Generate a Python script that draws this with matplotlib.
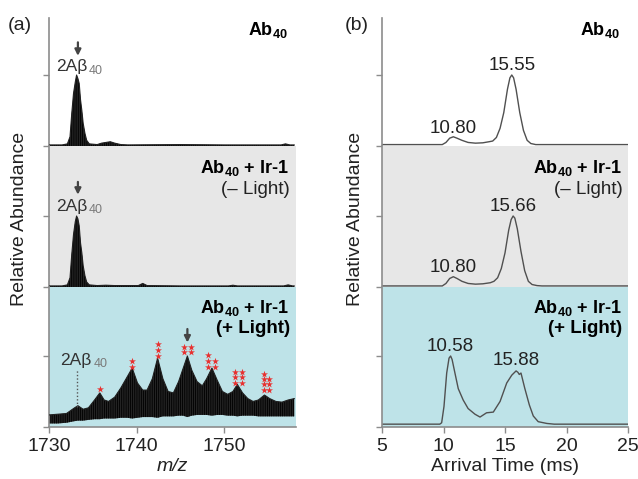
import matplotlib
matplotlib.use('Agg')
import matplotlib.pyplot as plt

plt.rcParams['font.family'] = ['Liberation Sans', 'DejaVu Sans']
plt.rcParams['mathtext.fontset'] = 'custom'
plt.rcParams['mathtext.rm'] = 'Liberation Sans'
plt.rcParams['mathtext.bf'] = 'Liberation Sans:bold'
plt.rcParams['mathtext.it'] = 'Liberation Sans:italic'
plt.rcParams['hatch.linewidth'] = 0.9

# ---------------- data: panel (a) mass spectra ----------------
# top: Ab40
mz_top = [1730, 1731.5, 1732.1, 1732.4, 1732.6, 1732.8, 1733.0, 1733.15, 1733.3, 1733.45,
          1733.6, 1733.75, 1733.9, 1734.1, 1734.3, 1734.6, 1735.5, 1736.0, 1736.5, 1737.0,
          1737.5, 1738.2, 1739.0, 1745.0, 1750.0, 1756.5, 1757.0, 1757.5, 1758.0]
ab_top = [0.015, 0.015, 0.03, 0.13, 0.46, 0.74, 0.90, 1.0, 0.95, 0.88,
          0.65, 0.50, 0.32, 0.18, 0.08, 0.03, 0.02, 0.04, 0.05, 0.06,
          0.04, 0.02, 0.015, 0.02, 0.015, 0.015, 0.03, 0.015, 0.015]
# middle: Ab40 + Ir-1 (- Light)
mz_mid = [1730, 1731.5, 1732.1, 1732.4, 1732.6, 1732.8, 1733.0, 1733.15, 1733.3, 1733.45,
          1733.6, 1733.75, 1733.9, 1734.1, 1734.3, 1734.6, 1735.5, 1736.5, 1737.5, 1740.2,
          1740.7, 1741.2, 1745.0, 1750.5, 1751.0, 1751.5, 1756.8, 1757.3, 1757.8, 1758.0]
ab_mid = [0.015, 0.015, 0.03, 0.13, 0.46, 0.74, 0.92, 1.0, 0.96, 0.86,
          0.62, 0.48, 0.30, 0.16, 0.07, 0.03, 0.02, 0.025, 0.02, 0.02,
          0.05, 0.02, 0.015, 0.015, 0.025, 0.015, 0.015, 0.03, 0.015, 0.015]
# bottom: Ab40 + Ir-1 (+ Light): upper and lower envelope of the isotope band
mz_bot = [1730.0, 1731.0, 1732.0, 1732.8, 1733.3, 1733.9, 1734.5, 1735.2, 1735.8, 1736.3,
          1736.8, 1737.5, 1738.2, 1738.9, 1739.5, 1740.1, 1740.7, 1741.2, 1741.8, 1742.4,
          1743.0, 1743.6, 1744.2, 1744.8, 1745.3, 1745.8, 1746.3, 1746.9, 1747.5, 1748.0,
          1748.6, 1749.2, 1749.8, 1750.4, 1751.0, 1751.5, 1752.1, 1752.7, 1753.3, 1753.9,
          1754.6, 1755.2, 1755.9, 1756.6, 1757.3, 1758.0]
ab_bot_hi = [0.17, 0.18, 0.19, 0.26, 0.30, 0.25, 0.27, 0.38, 0.48, 0.38,
             0.36, 0.42, 0.55, 0.70, 0.83, 0.62, 0.52, 0.52, 0.68, 0.97,
             0.68, 0.50, 0.48, 0.64, 0.82, 1.00, 0.80, 0.64, 0.58, 0.68,
             0.83, 0.66, 0.50, 0.46, 0.50, 0.60, 0.48, 0.40, 0.36, 0.38,
             0.45, 0.40, 0.36, 0.35, 0.38, 0.40]
ab_bot_lo = [0.05, 0.05, 0.06, 0.08, 0.09, 0.09, 0.10, 0.11, 0.11, 0.12,
             0.12, 0.12, 0.13, 0.13, 0.12, 0.13, 0.14, 0.14, 0.14, 0.13,
             0.15, 0.15, 0.15, 0.16, 0.16, 0.14, 0.16, 0.17, 0.17, 0.17,
             0.16, 0.17, 0.17, 0.16, 0.16, 0.15, 0.16, 0.16, 0.16, 0.15,
             0.15, 0.15, 0.15, 0.15, 0.15, 0.15]

# red star annotations (x, y) in m/z and relative units
star_x = [1735.8,
          1739.5, 1739.5,
          1742.4, 1742.4, 1742.4,
          1745.45, 1746.2, 1745.45, 1746.2,
          1748.2, 1748.2, 1748.2, 1749.0, 1749.0,
          1751.25, 1751.25, 1751.25, 1752.0, 1752.0, 1752.0,
          1754.5, 1754.5, 1754.5, 1754.5, 1755.1, 1755.1, 1755.1]
star_y = [0.535,
          0.93, 0.84,
          1.17, 1.08, 1.00,
          1.13, 1.13, 1.05, 1.05,
          1.01, 0.93, 0.85, 0.93, 0.85,
          0.78, 0.70, 0.62, 0.78, 0.70, 0.62,
          0.74, 0.67, 0.60, 0.52, 0.67, 0.60, 0.52]

# ---------------- data: panel (b) arrival time distributions ----------------
t_top = [5, 9.9, 10.2, 10.5, 10.8, 11.1, 11.5, 12.0, 12.6, 13.2, 13.7, 14.0, 14.3, 14.6,
         14.9, 15.2, 15.4, 15.55, 15.7, 15.9, 16.2, 16.5, 16.8, 17.1, 17.5, 18.0, 25]
i_top = [0.02, 0.02, 0.05, 0.11, 0.13, 0.11, 0.08, 0.05, 0.04, 0.045, 0.06, 0.07, 0.12, 0.25,
         0.47, 0.80, 0.96, 1.0, 0.96, 0.80, 0.47, 0.22, 0.08, 0.035, 0.02, 0.02, 0.02]
t_mid = [5, 9.9, 10.2, 10.5, 10.8, 11.1, 11.5, 12.0, 12.6, 13.2, 13.8, 14.1, 14.4, 14.7,
         15.0, 15.3, 15.5, 15.66, 15.8, 16.0, 16.3, 16.6, 16.9, 17.2, 17.6, 18.0, 25]
i_mid = [0.015, 0.015, 0.05, 0.12, 0.145, 0.12, 0.08, 0.05, 0.04, 0.045, 0.06, 0.08, 0.13, 0.26,
         0.48, 0.80, 0.95, 1.0, 0.97, 0.82, 0.50, 0.23, 0.08, 0.035, 0.02, 0.015, 0.015]
t_bot = [5, 9.7, 9.85, 10.04, 10.26, 10.45, 10.58, 10.7, 10.93, 11.2, 11.6, 12.0, 12.56, 12.97,
         13.5, 14.05, 14.6, 15.14, 15.55, 15.9, 16.05, 16.16, 16.3, 16.6, 16.98, 17.3, 17.7,
         18.4, 19.0, 25]
i_bot = [0.04, 0.04, 0.06, 0.29, 0.76, 0.97, 1.0, 0.95, 0.76, 0.54, 0.38, 0.26, 0.18, 0.14,
         0.20, 0.21, 0.36, 0.62, 0.73, 0.79, 0.77, 0.74, 0.76, 0.55, 0.31, 0.155, 0.075,
         0.05, 0.04, 0.04]

peak_labels_b = [
    ('15.55', 15.55, 1.13), ('10.80', 10.80, 0.25),
    ('15.66', 15.66, 1.13), ('10.80', 10.80, 0.27),
    ('10.58', 10.58, 1.13), ('15.88', 15.88, 0.93),
]

# ---------------- styling ----------------
BG = ['white', '#e7e7e7', '#bee3e8']
SPINE = '#8c8c8c'
TXT = '#222222'

fig = plt.figure(figsize=(6.38, 4.79), dpi=100)
W, H = 638.0, 479.0
rows = [(146, 128), (287, 141), (427, 140)]   # (bottom px, height px)
cols = [(49, 247), (382, 246)]
xlims = [(1730, 1758.2), (5, 25)]
unit = 71.0

axes = [[None] * 3 for _ in range(2)]
for c, (lx, w) in enumerate(cols):
    for r, (by, h) in enumerate(rows):
        ax = fig.add_axes([lx / W, 1 - by / H, w / W, h / H])
        ax.set_facecolor(BG[r])
        ax.set_xlim(*xlims[c])
        ax.set_ylim(0, h / unit)
        ax.set_yticks([0, 1])
        ax.tick_params(axis='y', which='both', direction='out', length=4, width=1,
                       color=SPINE, labelleft=False)
        for s in ['top', 'right']:
            ax.spines[s].set_visible(False)
        ax.spines['left'].set_color(SPINE)
        ax.spines['left'].set_linewidth(1.2)
        if r < 2:
            ax.spines['bottom'].set_visible(False)
            ax.tick_params(axis='x', bottom=False, labelbottom=False)
        else:
            ax.spines['bottom'].set_color(SPINE)
            ax.spines['bottom'].set_linewidth(1.2)
            ax.tick_params(axis='x', direction='out', length=4, width=1, color=SPINE,
                           labelsize=14, pad=4, labelcolor=TXT)
        axes[c][r] = ax

a_top, a_mid, a_bot = axes[0]
b_top, b_mid, b_bot = axes[1]
a_bot.set_xticks([1730, 1740, 1750])
b_bot.set_xticks([5, 10, 15, 20, 25])

# --- panel (a) spectra ---
def spectrum(ax, x, hi, lo=None):
    if lo is None:
        lo = [0.0] * len(x)
    ax.fill_between(x, lo, hi, facecolor='#383838', edgecolor='#050505',
                    hatch='|' * 9, linewidth=0, zorder=2)
    ax.plot(x, hi, color='#222222', lw=0.8, zorder=3)

spectrum(a_top, mz_top, ab_top)
spectrum(a_mid, mz_mid, ab_mid)
spectrum(a_bot, mz_bot, ab_bot_hi, ab_bot_lo)
a_bot.scatter(star_x, star_y, marker='*', s=28, color='#e8302f', linewidths=0, zorder=4)

def two_ab(ax, x, y):
    ax.text(x, y, '2A\u03b2', ha='right', va='baseline', fontsize=12.5, color='#333333')
    ax.annotate('40', xy=(x, y), xytext=(1, -1.5), textcoords='offset points',
                ha='left', va='baseline', fontsize=9, color='#7a7a7a')

def arrow(ax, x, y0, y1):
    ax.annotate('', xy=(x, y1), xytext=(x, y0),
                arrowprops=dict(arrowstyle='-|>', color='#444444', lw=1.6,
                                mutation_scale=9, shrinkA=0, shrinkB=0))

two_ab(a_top, 1734.4, 1.05)
arrow(a_top, 1733.3, 1.46, 1.27)
two_ab(a_mid, 1734.4, 1.07)
arrow(a_mid, 1733.3, 1.48, 1.30)
two_ab(a_bot, 1734.9, 0.87)
a_bot.plot([1733.2, 1733.2], [0.28, 0.82], ls=(0, (1, 1.5)), color='#555555', lw=1, zorder=3)
arrow(a_bot, 1745.8, 1.38, 1.19)

# --- panel (b) ATDs ---
for ax, t, i in [(b_top, t_top, i_top), (b_mid, t_mid, i_mid), (b_bot, t_bot, i_bot)]:
    ax.plot(t, i, color='#505050', lw=1.0)
for k, (lab, x, y) in enumerate(peak_labels_b):
    ax = [b_top, b_top, b_mid, b_mid, b_bot, b_bot][k]
    ax.text(x, y, lab, ha='center', va='center', fontsize=13.5, color=TXT)

# --- condition labels ---
for c in range(2):
    top, mid, bot = axes[c]
    rx = 0.965 if c == 0 else 0.968
    top.text(rx, 0.905, r'$\mathbf{Ab_{40}}$', transform=top.transAxes, ha='right',
             va='center', fontsize=13, color='black')
    mid.text(rx + 0.006, 0.845, r'$\mathbf{Ab_{40}}$ + Ir-1', transform=mid.transAxes,
             ha='right', va='center', fontsize=13, fontweight='bold', color='black')
    mid.text(rx + 0.01, 0.69, '(\u2013 Light)', transform=mid.transAxes, ha='right',
             va='center', fontsize=13.5, color=TXT)
    bot.text(rx + 0.006, 0.85, r'$\mathbf{Ab_{40}}$ + Ir-1', transform=bot.transAxes,
             ha='right', va='center', fontsize=13, fontweight='bold', color='black')
    bot.text(rx + 0.01, 0.705, '(+ Light)', transform=bot.transAxes, ha='right',
             va='center', fontsize=13.5, fontweight='bold', color='black')

# --- axis labels ---
a_bot.set_xlabel('m/z', fontsize=14, fontstyle='italic', color=TXT, labelpad=2)
b_bot.set_xlabel('Arrival Time (ms)', fontsize=14, color=TXT, labelpad=2)
fig.text(20 / W, 1 - 219 / H, 'Relative Abundance', rotation=90, ha='center', va='center',
         fontsize=14, color=TXT)
fig.text(355 / W, 1 - 219 / H, 'Relative Abundance', rotation=90, ha='center', va='center',
         fontsize=14, color=TXT)
fig.text(8 / W, 1 - 26 / H, '(a)', ha='left', va='center', fontsize=14, color=TXT)
fig.text(345 / W, 1 - 26 / H, '(b)', ha='left', va='center', fontsize=14, color=TXT)

fig.savefig('out.png', dpi=100)
